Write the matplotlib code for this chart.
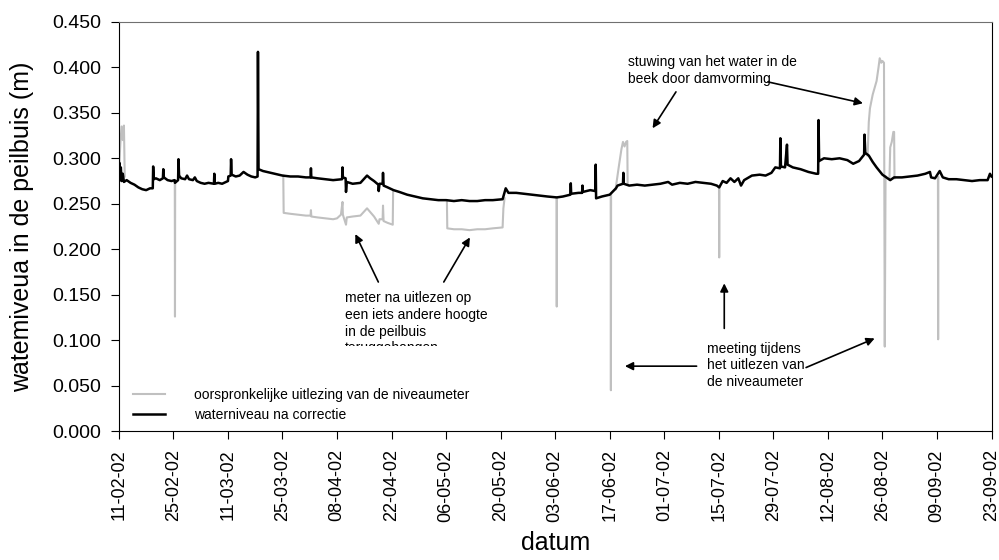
import numpy as np
import pandas as pd
import matplotlib
matplotlib.use("Agg")
import matplotlib.pyplot as plt
import matplotlib.dates as mdates
from matplotlib.transforms import Bbox, TransformedBbox

plt.rcParams['font.family'] = ['Liberation Sans', 'DejaVu Sans']

start = pd.Timestamp("2002-02-11")

# waterniveau na correctie (dagen na 11-02-02, m)
corr_days = [0.0, 0.15, 0.3, 0.5, 0.7, 1.0, 1.3, 2.0, 3.0, 4.0, 5.0, 6.0, 7.0, 8.0, 8.7, 8.8, 8.95,
             9.5, 10.5, 11.3, 11.4, 11.55, 12.5, 13.5, 14.3, 14.4, 15.2, 15.3, 15.45, 16.0, 17.0,
             17.5, 18.0, 19.0, 19.5, 20.0, 21.0, 22.0, 23.0, 24.4, 24.5, 24.6, 25.5, 26.5, 27.5,
             28.0, 28.1, 28.7, 28.8, 28.95, 30.0, 31.0, 32.0, 33.0, 34.0, 35.0, 35.6, 35.7, 35.85,
             37.0, 38.0, 39.0, 40.0, 41.0, 42.0, 44.0, 46.0, 48.0, 49.2, 49.3, 49.4, 51.0, 53.0,
             55.0, 57.3, 57.4, 57.5, 58.2, 58.3, 58.5, 60.0, 62.0, 63.7, 64.5, 65.5, 66.6, 66.7,
             66.9, 67.7, 67.8, 67.95, 69.0, 70.5, 72.0, 74.0, 76.0, 78.0, 80.0, 82.0, 84.0, 86.0,
             88.0, 90.0, 92.0, 94.0, 96.0, 98.5, 99.3, 100.0, 102.0, 104.0, 106.0, 108.0, 110.0,
             112.4, 114.0, 115.9, 116.0, 116.1, 118.0, 118.9, 119.0, 119.1, 121.0, 122.3, 122.4,
             122.5, 124.0, 126.0, 127.6, 128.0, 129.4, 129.5, 129.6, 131.0, 133.0, 135.0, 137.0,
             139.0, 141.0, 142.0, 144.0, 146.0, 148.0, 150.0, 152.0, 153.5, 154.1, 155.0, 156.0,
             157.0, 158.0, 159.0, 159.7, 160.5, 162.5, 164.5, 166.0, 167.5, 168.5, 169.7, 169.8,
             169.95, 171.0, 171.5, 171.65, 173.0, 175.0, 177.0, 179.0, 179.5, 179.6, 179.75,
             181.0, 183.0, 185.0, 187.0, 188.5, 190.0, 191.3, 191.4, 191.6, 192.5, 193.5, 194.5,
             196.0, 197.0, 198.0, 199.0, 201.0, 203.0, 205.0, 207.0, 208.2, 208.5, 209.5, 210.7,
             211.5, 213.0, 215.0, 217.0, 219.0, 221.0, 223.0, 223.6, 224.0]
corr_level = [0.285, 0.295, 0.276, 0.290, 0.275, 0.283, 0.274, 0.276, 0.273, 0.271, 0.268, 0.266,
              0.265, 0.267, 0.267, 0.291, 0.277, 0.278, 0.276, 0.278, 0.288, 0.279, 0.276, 0.275,
              0.276, 0.273, 0.276, 0.299, 0.281, 0.278, 0.277, 0.281, 0.277, 0.276, 0.279, 0.275,
              0.273, 0.272, 0.273, 0.272, 0.283, 0.272, 0.273, 0.272, 0.274, 0.275, 0.280, 0.281,
              0.299, 0.282, 0.280, 0.281, 0.285, 0.282, 0.280, 0.279, 0.280, 0.417, 0.288, 0.286,
              0.285, 0.284, 0.283, 0.282, 0.281, 0.280, 0.280, 0.279, 0.279, 0.289, 0.279, 0.278,
              0.277, 0.276, 0.277, 0.290, 0.279, 0.278, 0.263, 0.274, 0.272, 0.273, 0.281, 0.278,
              0.275, 0.271, 0.264, 0.272, 0.272, 0.284, 0.270, 0.268, 0.265, 0.263, 0.260, 0.258,
              0.256, 0.255, 0.254, 0.254, 0.253, 0.254, 0.253, 0.253, 0.254, 0.254, 0.255, 0.267,
              0.262, 0.262, 0.261, 0.260, 0.259, 0.258, 0.257, 0.258, 0.260, 0.2725, 0.261, 0.262,
              0.262, 0.270, 0.263, 0.265, 0.264, 0.293, 0.256, 0.258, 0.260, 0.267, 0.270, 0.272,
              0.284, 0.272, 0.270, 0.271, 0.270, 0.271, 0.272, 0.274, 0.271, 0.273, 0.272, 0.274,
              0.273, 0.272, 0.270, 0.268, 0.275, 0.273, 0.278, 0.274, 0.278, 0.270, 0.276, 0.281,
              0.282, 0.281, 0.284, 0.290, 0.289, 0.322, 0.291, 0.290, 0.315, 0.293, 0.290, 0.288,
              0.285, 0.283, 0.283, 0.342, 0.297, 0.300, 0.299, 0.300, 0.298, 0.294, 0.297, 0.304,
              0.326, 0.306, 0.303, 0.296, 0.290, 0.282, 0.279, 0.276, 0.279, 0.279, 0.280, 0.281,
              0.283, 0.285, 0.279, 0.278, 0.286, 0.279, 0.277, 0.277, 0.276, 0.275, 0.276, 0.276,
              0.283, 0.280]

# oorspronkelijke uitlezing: alleen waar die van de correctie afwijkt (nan = onderbreking)
orig_days = [0.0, 0.4, 0.7, 1.0, 1.3, 1.5, np.nan,
             14.35, 14.4, 14.45, np.nan,
             42.2, 42.3, 44.0, 46.0, 48.0, 49.2, 49.3, 49.4, 51.0, 53.0, 55.0, 56.0, 57.0, 57.4,
             57.5, 58.3, 58.5, 60.0, 62.0, 63.7, 64.5, 65.5, 66.7, 66.9, 67.7, 67.8, 67.95, 69.0,
             70.3, 70.4, np.nan,
             84.2, 84.3, 86.0, 88.0, 90.0, 92.0, 94.0, 96.0, 98.5, 98.7, 99.0, np.nan,
             112.35, 112.4, 112.45, np.nan,
             126.25, 126.3, 126.35, np.nan,
             127.5, 128.3, 129.0, 129.4, 129.8, 130.2, 130.5, 130.6, np.nan,
             154.05, 154.1, 154.15, np.nan,
             192.2, 192.5, 192.8, 193.5, 194.5, 195.0, 195.3, 195.7, 196.0, 196.4, 196.6, 196.8,
             np.nan,
             197.8, 198.0, 198.4, 198.8, 199.0, 199.1, np.nan,
             210.25, 210.3, 210.35]
orig_level = [0.285, 0.318, 0.335, 0.320, 0.336, 0.280, np.nan,
              0.276, 0.126, 0.276, np.nan,
              0.281, 0.240, 0.239, 0.238, 0.237, 0.237, 0.243, 0.236, 0.235, 0.234, 0.233, 0.234,
              0.238, 0.252, 0.238, 0.227, 0.235, 0.236, 0.237, 0.245, 0.241, 0.236, 0.228, 0.233,
              0.233, 0.248, 0.231, 0.229, 0.227, 0.265, np.nan,
              0.254, 0.223, 0.222, 0.222, 0.221, 0.222, 0.222, 0.223, 0.224, 0.245, 0.256, np.nan,
              0.257, 0.137, 0.257, np.nan,
              0.260, 0.045, 0.260, np.nan,
              0.266, 0.290, 0.310, 0.318, 0.313, 0.318, 0.319, 0.271, np.nan,
              0.268, 0.191, 0.268, np.nan,
              0.303, 0.340, 0.355, 0.370, 0.385, 0.400, 0.410, 0.405, 0.407, 0.405, 0.093, 0.280,
              np.nan,
              0.277, 0.312, 0.318, 0.329, 0.329, 0.278, np.nan,
              0.279, 0.101, 0.279]

t0 = mdates.date2num(start)


def dnum(d):
    return t0 + d


fig = plt.figure(figsize=(9.99, 5.6), dpi=100)
ax = fig.add_axes([0.119, 0.230, 0.8735, 0.731])

ax.plot(t0 + np.array(orig_days), orig_level, color='#c0c0c0', lw=1.5,
        label='oorspronkelijke uitlezing van de niveaumeter')
ax.plot(t0 + np.array(corr_days), corr_level, color='black', lw=1.8,
        label='waterniveau na correctie')

ax.set_xlim(t0, mdates.date2num(pd.Timestamp("2002-09-23")))
ax.set_ylim(0, 0.45)
ax.set_xticks(mdates.date2num(pd.date_range("2002-02-11", "2002-09-23", freq="14D")))
ax.xaxis.set_major_formatter(mdates.DateFormatter('%d-%m-%y'))
ax.set_yticks(np.arange(0, 0.451, 0.05))
ax.yaxis.set_major_formatter(matplotlib.ticker.FormatStrFormatter('%.3f'))
ax.tick_params(axis='x', labelrotation=90, labelsize=13, length=6, pad=7, direction='out')
ax.tick_params(axis='y', labelsize=14, length=6, pad=7, direction='out')
ax.spines['top'].set_color('#707070')

ax.set_xlabel('datum', fontsize=18, labelpad=7)
ax.set_ylabel('watemiveua in de peilbuis (m)', fontsize=18, labelpad=13)

ax.legend(loc='lower left', bbox_to_anchor=(0.016, 0.022), frameon=False, fontsize=10,
          handlelength=2.3, handletextpad=2.1, labelspacing=0.45, borderpad=0,
          borderaxespad=0)

arrow = dict(arrowstyle='-|>', color='black', lw=1.2, mutation_scale=12, shrinkA=0, shrinkB=0)

t1 = ax.text(dnum(58.1), 0.154, 'meter na uitlezen op\neen iets andere hoogte\nin de peilbuis\nteruggehangen',
             fontsize=10, ha='left', va='top', linespacing=1.25)
t1.set_clip_box(TransformedBbox(Bbox([[dnum(50), 0.0935], [dnum(100), 0.2]]), ax.transData))
t1.set_clip_on(True)
ax.annotate('', xy=(dnum(60.7), 0.2167), xytext=(dnum(66.6), 0.164), arrowprops=arrow)
ax.annotate('', xy=(dnum(90.1), 0.213), xytext=(dnum(83.4), 0.164), arrowprops=arrow)

ax.text(dnum(130.6), 0.413, 'stuwing van het water in de\nbeek door damvorming',
        fontsize=10, ha='left', va='top', linespacing=1.25)
ax.annotate('', xy=(dnum(137.0), 0.333), xytext=(dnum(143.0), 0.373), arrowprops=arrow)
ax.annotate('', xy=(dnum(191.0), 0.3605), xytext=(dnum(166.6), 0.384), arrowprops=arrow)

ax.text(dnum(151.0), 0.0985, 'meeting tijdens\nhet uitlezen van\nde niveaumeter',
        fontsize=10, ha='left', va='top', linespacing=1.25)
ax.annotate('', xy=(dnum(155.4), 0.1625), xytext=(dnum(155.4), 0.113), arrowprops=arrow)
ax.annotate('', xy=(dnum(129.9), 0.0715), xytext=(dnum(148.3), 0.0715), arrowprops=arrow)
ax.annotate('', xy=(dnum(194.0), 0.102), xytext=(dnum(176.4), 0.070), arrowprops=arrow)

fig.savefig('out.png', dpi=100)
